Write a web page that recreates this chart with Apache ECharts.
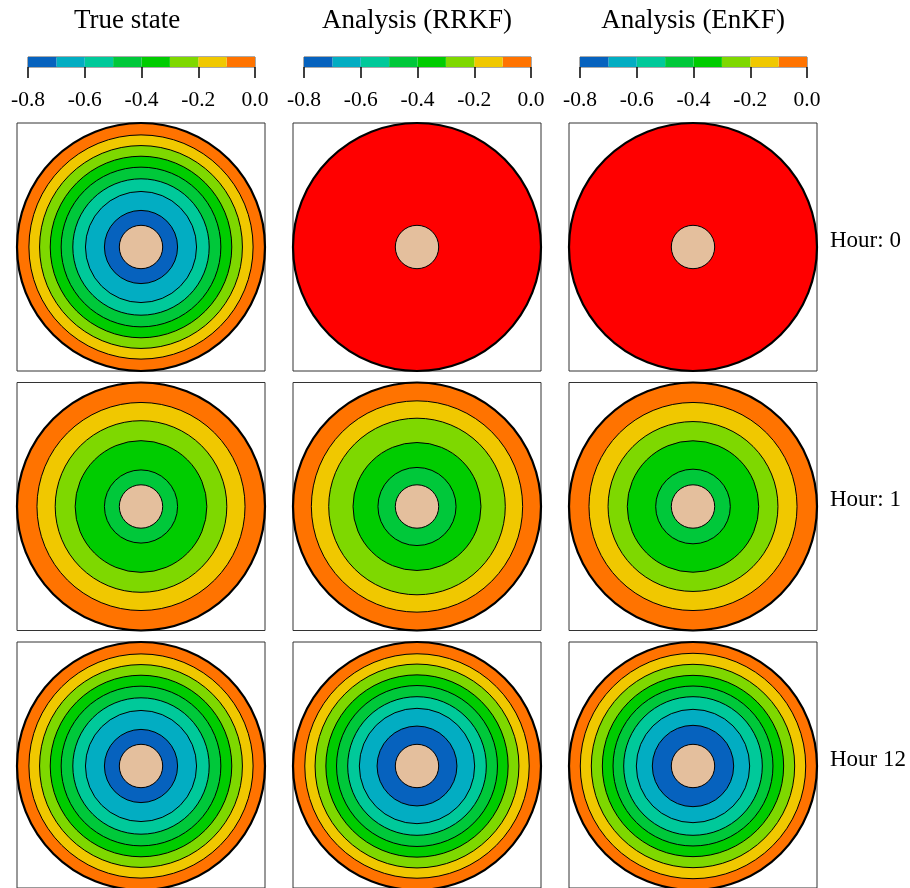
<!DOCTYPE html>
<html><head><meta charset="utf-8">
<script src="https://cdn.jsdelivr.net/npm/echarts@6/dist/echarts.min.js"></script>
<style>html,body{margin:0;padding:0;background:#fff}#c{width:910px;height:888px}</style>
</head><body><div id="c"></div>
<script>
// ---------------- data ----------------
const columnTitles = ['True state', 'Analysis (RRKF)', 'Analysis (EnKF)'];
const rowLabels = ['Hour: 0', 'Hour: 1', 'Hour 12'];
const colorbarTicks = [-0.8, -0.6, -0.4, -0.2, 0.0];
const bandBreaks = [-0.8, -0.7, -0.6, -0.5, -0.4, -0.3, -0.2, -0.1, 0.0];
const bandColors = ['#0662BE', '#02ADC2', '#00C99A', '#00C83A', '#00CC00', '#7ED800', '#F0C800', '#FF7300'];
const aboveColor = '#FF0000';
const islandColor = '#E4BF9D';
const contourLevels = [-0.1, -0.2, -0.3, -0.4, -0.5, -0.6, -0.7];
const domainRadius = 1.0;
const islandRadius = 0.175;
// radius (fraction of domain radius) of each contour level, per panel
const trueH0  = [0.904, 0.818, 0.732, 0.644, 0.550, 0.448, 0.295];
const rrkfH0  = [];
const enkfH0  = [];
const trueH1  = [0.839, 0.692, 0.531, 0.295];
const rrkfH1  = [0.852, 0.712, 0.516, 0.315];
const enkfH1  = [0.839, 0.685, 0.530, 0.301];
const trueH12 = [0.904, 0.818, 0.732, 0.644, 0.550, 0.448, 0.295];
const rrkfH12 = [0.905, 0.822, 0.735, 0.649, 0.559, 0.465, 0.322];
const enkfH12 = [0.909, 0.820, 0.731, 0.645, 0.559, 0.457, 0.328];
// field value at the outer boundary, per panel
const boundaryH0  = [-0.05, 0.0, 0.0];
const boundaryH1  = [-0.05, -0.05, -0.05];
const boundaryH12 = [-0.05, -0.05, -0.05];

const panelContours = [[trueH0, rrkfH0, enkfH0], [trueH1, rrkfH1, enkfH1], [trueH12, rrkfH12, enkfH12]];
const panelBoundary = [boundaryH0, boundaryH1, boundaryH12];

// ---------------- layout ----------------
const FONT = 'Liberation Serif';
const panelLeft = 17, panelTop = 123, panelSize = 248, colStep = 276, rowStep = 259.5;
const cbLeft = 28, cbTop = 57, cbWidth = 227, cbHeight = 10;
const titleX = [127, 417, 693], titleY = 21;
const rowLabelX = 830, rowLabelY = [241, 500, 760];

function colorFor(v) {
  if (v >= 0) return aboveColor;
  for (let i = 0; i < bandBreaks.length - 1; i++) {
    if (v >= bandBreaks[i] && v < bandBreaks[i + 1]) return bandColors[i];
  }
  return bandColors[0];
}

const grid = [], xAxis = [], yAxis = [], polar = [], angleAxis = [], radiusAxis = [], series = [];

// panel frames + polar systems
for (let r = 0; r < 3; r++) {
  for (let c = 0; c < 3; c++) {
    const p = r * 3 + c;
    const left = panelLeft + c * colStep, top = panelTop + r * rowStep;
    grid.push({ left, top, width: panelSize, height: panelSize, show: true, borderColor: '#333', borderWidth: 1, backgroundColor: 'transparent' });
    xAxis.push({ gridIndex: p, type: 'value', min: 0, max: 1, show: false });
    yAxis.push({ gridIndex: p, type: 'value', min: 0, max: 1, show: false });
    polar.push({ center: [left + panelSize / 2, top + panelSize / 2], radius: panelSize / 2 });
    angleAxis.push({ polarIndex: p, type: 'category', data: ['field'], show: false, startAngle: 90 });
    radiusAxis.push({ polarIndex: p, type: 'value', min: 0, max: domainRadius, show: false });

    const common = { type: 'bar', coordinateSystem: 'polar', polarIndex: p, barGap: '-100%', barCategoryGap: '0%', silent: true, animation: false };
    // outer domain disk
    series.push(Object.assign({}, common, { data: [domainRadius], itemStyle: { color: colorFor(panelBoundary[r][c]), borderColor: '#000', borderWidth: 2.2 } }));
    // contour disks
    panelContours[r][c].forEach((rad, k) => {
      series.push(Object.assign({}, common, { data: [rad], itemStyle: { color: colorFor(contourLevels[k] - 0.05), borderColor: '#000', borderWidth: 1 } }));
    });
    // island
    series.push(Object.assign({}, common, { data: [islandRadius], itemStyle: { color: islandColor, borderColor: '#000', borderWidth: 1 } }));
  }
}

// colour bars
for (let c = 0; c < 3; c++) {
  const gi = 9 + c;
  grid.push({ left: cbLeft + c * colStep, top: cbTop, width: cbWidth, height: cbHeight, show: true, borderColor: '#555', borderWidth: 1 });
  xAxis.push({
    gridIndex: gi, type: 'value', min: bandBreaks[0], max: bandBreaks[bandBreaks.length - 1], interval: 0.2, position: 'bottom',
    axisLine: { show: false }, splitLine: { show: false },
    axisTick: { show: true, length: 11, lineStyle: { color: '#000', width: 1.5 } },
    axisLabel: { fontSize: 21.5, fontFamily: FONT, color: '#000', margin: 22,
      formatter: v => colorbarTicks.some(t => Math.abs(t - v) < 1e-9) ? (Math.abs(v) < 1e-9 ? '0.0' : v.toFixed(1)) : '' }
  });
  yAxis.push({ gridIndex: gi, type: 'category', data: ['cb'], show: false });
  for (let j = bandBreaks.length - 2; j >= 0; j--) {
    series.push({ type: 'bar', xAxisIndex: gi, yAxisIndex: gi, stack: 'cb' + c, barWidth: '100%', silent: true, animation: false,
      data: [bandBreaks[j] - bandBreaks[j + 1]], itemStyle: { color: bandColors[j] } });
  }
}

const graphic = [];
columnTitles.forEach((t, c) => graphic.push({ type: 'text', x: titleX[c], y: titleY,
  style: { text: t, font: '27px "' + FONT + '"', fill: '#000', textAlign: 'center', textVerticalAlign: 'middle' } }));
rowLabels.forEach((t, r) => graphic.push({ type: 'text', x: rowLabelX, y: rowLabelY[r],
  style: { text: t, font: '23px "' + FONT + '"', fill: '#000', textAlign: 'left', textVerticalAlign: 'middle' } }));

const chart = echarts.init(document.getElementById('c'), null, { renderer: 'canvas' });
chart.setOption({ animation: false, backgroundColor: '#fff', grid, xAxis, yAxis, polar, angleAxis, radiusAxis, series, graphic });
</script></body></html>
